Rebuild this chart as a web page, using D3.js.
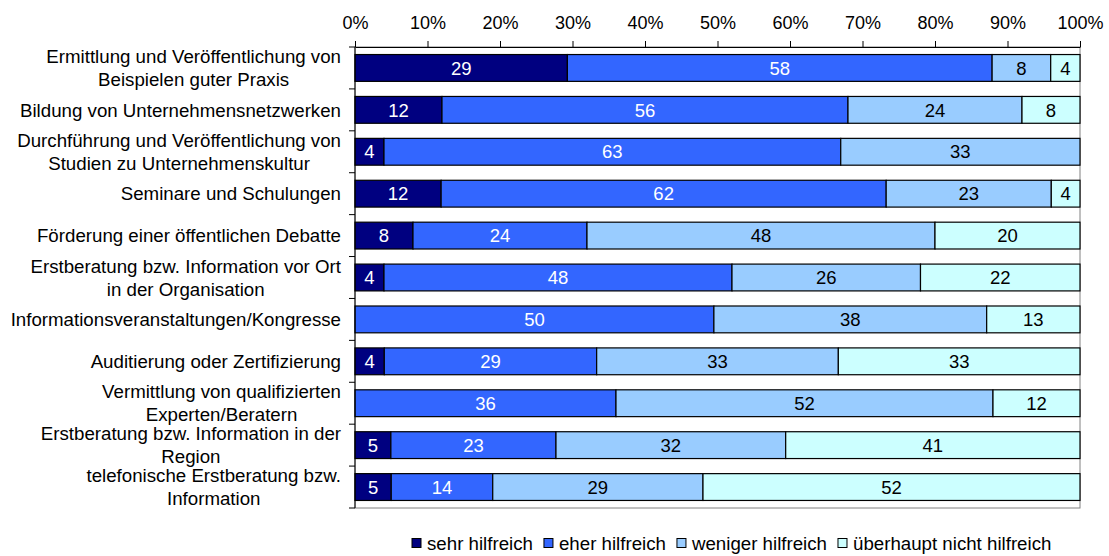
<!DOCTYPE html>
<html>
<head>
<meta charset="utf-8">
<script src="https://cdn.jsdelivr.net/npm/d3@7"></script>
<style>
  body { margin: 0; background: #fff; }
  svg text { font-family: "Liberation Sans", Arial, sans-serif; }
</style>
</head>
<body>
<svg id="chart" width="1109" height="556"></svg>
<script>
// Measures, one row per category (label lines separated by "\n")
const categories = [
  "Ermittlung und Veröffentlichung von\nBeispielen guter Praxis",
  "Bildung von Unternehmensnetzwerken",
  "Durchführung und Veröffentlichung von\nStudien zu Unternehmenskultur",
  "Seminare und Schulungen",
  "Förderung einer öffentlichen Debatte",
  "Erstberatung bzw. Information vor Ort\nin der Organisation",
  "Informationsveranstaltungen/Kongresse",
  "Auditierung oder Zertifizierung",
  "Vermittlung von qualifizierten\nExperten/Beratern",
  "Erstberatung bzw. Information in der\nRegion",
  "telefonische Erstberatung bzw.\nInformation"
];

const seriesNames = ["sehr hilfreich", "eher hilfreich", "weniger hilfreich", "überhaupt nicht hilfreich"];

// Percent of answers per category, one array per series
const sehrHilfreich      = [29, 12, 4, 12, 8, 4, 0, 4, 0, 5, 5];
const eherHilfreich      = [58, 56, 63, 62, 24, 48, 50, 29, 36, 23, 14];
const wenigerHilfreich   = [8, 24, 33, 23, 48, 26, 38, 33, 52, 32, 29];
const ueberhauptNicht    = [4, 8, 0, 4, 20, 22, 13, 33, 12, 41, 52];

const tickValues = [0, 0.1, 0.2, 0.3, 0.4, 0.5, 0.6, 0.7, 0.8, 0.9, 1];

const colors = ["#000080", "#3366FF", "#99CCFF", "#CCFFFF"];
const textColors = ["#ffffff", "#ffffff", "#000000", "#000000"];

const seriesValues = [sehrHilfreich, eherHilfreich, wenigerHilfreich, ueberhauptNicht];
const rows = categories.map((c, i) => {
  const r = { category: c };
  seriesNames.forEach((s, k) => { r[s] = seriesValues[k][i]; });
  return r;
});

const svg = d3.select("#chart");
const margin = { top: 47, left: 355, right: 29, bottom: 48 };
const W = 1109, H = 556;
const plotW = W - margin.left - margin.right;
const plotH = H - margin.top - margin.bottom;
const labelFont = 18.7;

const x = d3.scaleLinear().domain([0, 1]).range([margin.left, margin.left + plotW]);
const y = d3.scaleBand().domain(categories).range([margin.top, margin.top + plotH])
  .paddingInner(0.36).paddingOuter(0.18);

// 100 % stacking
const stack = d3.stack().keys(seriesNames).offset(d3.stackOffsetExpand);
const stacked = stack(rows);

// plot area frame
svg.append("rect")
  .attr("x", margin.left).attr("y", margin.top)
  .attr("width", plotW).attr("height", plotH)
  .attr("fill", "#fff").attr("stroke", "#808080").attr("stroke-width", 1);

// bars
const layer = svg.append("g").selectAll("g").data(stacked).join("g")
  .attr("fill", (d, i) => colors[i]);

layer.selectAll("rect")
  .data(d => d.filter(p => p[1] - p[0] > 0))
  .join("rect")
  .attr("x", d => x(d[0]))
  .attr("y", d => y(d.data.category))
  .attr("width", d => x(d[1]) - x(d[0]))
  .attr("height", y.bandwidth())
  .attr("stroke", "#000").attr("stroke-width", 1.2);

// value labels
stacked.forEach((s, i) => {
  svg.append("g").selectAll("text")
    .data(s.filter(p => p[1] - p[0] > 0))
    .join("text")
    .attr("x", d => (x(d[0]) + x(d[1])) / 2)
    .attr("y", d => y(d.data.category) + y.bandwidth() / 2)
    .attr("dy", "0.36em")
    .attr("text-anchor", "middle")
    .attr("font-size", 18.5)
    .attr("fill", textColors[i])
    .text(d => d.data[s.key]);
});

// top axis
const xAxis = d3.axisTop(x).tickValues(tickValues).tickFormat(d3.format(".0%"))
  .tickSizeInner(6).tickSizeOuter(0).tickPadding(12);
const gx = svg.append("g").attr("transform", `translate(0,${margin.top})`).call(xAxis);
gx.selectAll("text").attr("font-size", 18).attr("fill", "#000")
  .style("font-family", '"Liberation Sans", Arial, sans-serif');
gx.selectAll("line, path").attr("stroke", "#000");

// left axis: line plus ticks at category boundaries
const boundaries = d3.range(categories.length + 1).map(i => margin.top + i * plotH / categories.length);
svg.append("line")
  .attr("x1", margin.left).attr("x2", margin.left)
  .attr("y1", margin.top).attr("y2", margin.top + plotH)
  .attr("stroke", "#000");
svg.append("g").selectAll("line").data(boundaries).join("line")
  .attr("x1", margin.left - 6).attr("x2", margin.left)
  .attr("y1", d => d).attr("y2", d => d)
  .attr("stroke", "#000");

// category labels: centered lines, block right-aligned against the axis
const labelRight = margin.left - 14;
const lineH = 23;
categories.forEach(c => {
  const lines = c.split("\n");
  const g = svg.append("g");
  const cy = y(c) + y.bandwidth() / 2;
  const texts = lines.map((ln, j) => g.append("text")
    .attr("y", cy + (j - (lines.length - 1) / 2) * lineH)
    .attr("dy", "0.36em")
    .attr("text-anchor", "middle")
    .attr("font-size", labelFont)
    .attr("fill", "#000")
    .text(ln));
  const maxW = d3.max(texts, t => t.node().getComputedTextLength());
  texts.forEach(t => t.attr("x", labelRight - maxW / 2));
});

// legend
const legend = svg.append("g").attr("transform", "translate(412,543)");
let lx = 0;
seriesNames.forEach((s, i) => {
  legend.append("rect")
    .attr("x", lx).attr("y", -4.5).attr("width", 9).attr("height", 9)
    .attr("fill", colors[i]).attr("stroke", "#000").attr("stroke-width", 1);
  const t = legend.append("text")
    .attr("x", lx + 15).attr("y", 0).attr("dy", "0.36em")
    .attr("font-size", labelFont).attr("fill", "#000")
    .text(s);
  lx += 15 + t.node().getComputedTextLength() + 11;
});
</script>
</body>
</html>
